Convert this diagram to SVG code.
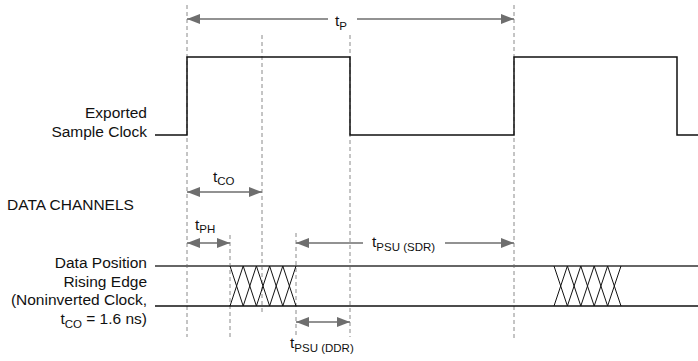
<svg xmlns="http://www.w3.org/2000/svg" width="698" height="361" viewBox="0 0 698 361">
<style>
.dash{stroke:#8a8a8a;stroke-width:1;stroke-dasharray:4,3;fill:none}
.sig{stroke:#111;stroke-width:1.5;fill:none}
.bus{stroke:#666;stroke-width:2;fill:none}
.arr{stroke:#6e6e6e;stroke-width:1.6;fill:none;marker-start:url(#ah);marker-end:url(#ah)}
.half{stroke:#6e6e6e;stroke-width:1.6;fill:none}
.x{stroke:#111;stroke-width:1;fill:none}
text{font-family:"Liberation Sans",Arial,sans-serif;font-size:15.5px;fill:#111}
.r{text-anchor:end}
.s{font-size:11.5px}
</style>
<defs>
<marker id="ah" viewBox="0 0 13 10" refX="13" refY="5" markerWidth="13" markerHeight="10" markerUnits="userSpaceOnUse" orient="auto-start-reverse">
<path d="M0,0 L13,5 L0,10 Z" fill="#6e6e6e"/>
</marker>
</defs>
<g id="guides">
<line class="dash" x1="187" y1="5" x2="187" y2="337"/>
<line class="dash" x1="262" y1="35" x2="262" y2="313"/>
<line class="dash" x1="350" y1="35" x2="350" y2="337"/>
<line class="dash" x1="514" y1="5" x2="514" y2="338"/>
<line class="dash" x1="230" y1="235" x2="230" y2="337"/>
<line class="dash" x1="296" y1="233" x2="296" y2="337"/>
</g>
<g id="clock">
<polyline class="sig" points="155,135 187,135 187,57 350,57 350,135 514,135 514,57 677,57 677,135 698,135"/>
<text class="r" x="147" y="118">Exported</text>
<text class="r" x="147" y="137">Sample Clock</text>
</g>
<g id="data">
<line class="bus" x1="155" y1="266" x2="698" y2="266"/>
<line class="sig" x1="155" y1="306" x2="698" y2="306"/>
<path class="x" d="M230,266 L243.2,306 L256.4,266 L269.6,306 L282.8,266 L296,306 M230,306 L243.2,266 L256.4,306 L269.6,266 L282.8,306 L296,266"/>
<path class="x" d="M554,266 L567.4,306 L580.8,266 L594.2,306 L607.6,266 L621,306 M554,306 L567.4,266 L580.8,306 L594.2,266 L607.6,306 L621,266"/>
<text x="7" y="210">DATA CHANNELS</text>
<text class="r" x="147" y="268">Data Position</text>
<text class="r" x="147" y="287">Rising Edge</text>
<text class="r" x="147" y="305">(Noninverted Clock,</text>
<text class="r" x="147" y="324">t<tspan class="s" dy="4">CO</tspan><tspan dy="-4"> = 1.6 ns)</tspan></text>
</g>
<g id="connectors">
<line class="half" x1="187" y1="19" x2="328" y2="19" style="marker-start:url(#ah)"/>
<line class="half" x1="357" y1="19" x2="514" y2="19" style="marker-end:url(#ah)"/>
<line class="arr" x1="187" y1="192" x2="262" y2="192"/>
<line class="arr" x1="187" y1="243" x2="230" y2="243"/>
<line class="half" x1="296" y1="243" x2="363" y2="243" style="marker-start:url(#ah)"/>
<line class="half" x1="445" y1="243" x2="514" y2="243" style="marker-end:url(#ah)"/>
<line class="arr" x1="296" y1="322" x2="350" y2="322"/>
</g>
<g id="labels">
<text x="335" y="26">t<tspan class="s" dy="4">P</tspan></text>
<text x="213" y="182">t<tspan class="s" dy="3">CO</tspan></text>
<text x="195" y="230">t<tspan class="s" dy="3">PH</tspan></text>
<text x="372" y="247">t<tspan class="s" dy="4">PSU (SDR)</tspan></text>
<text x="290" y="348">t<tspan class="s" dy="4">PSU (DDR)</tspan></text>
</g>
</svg>
